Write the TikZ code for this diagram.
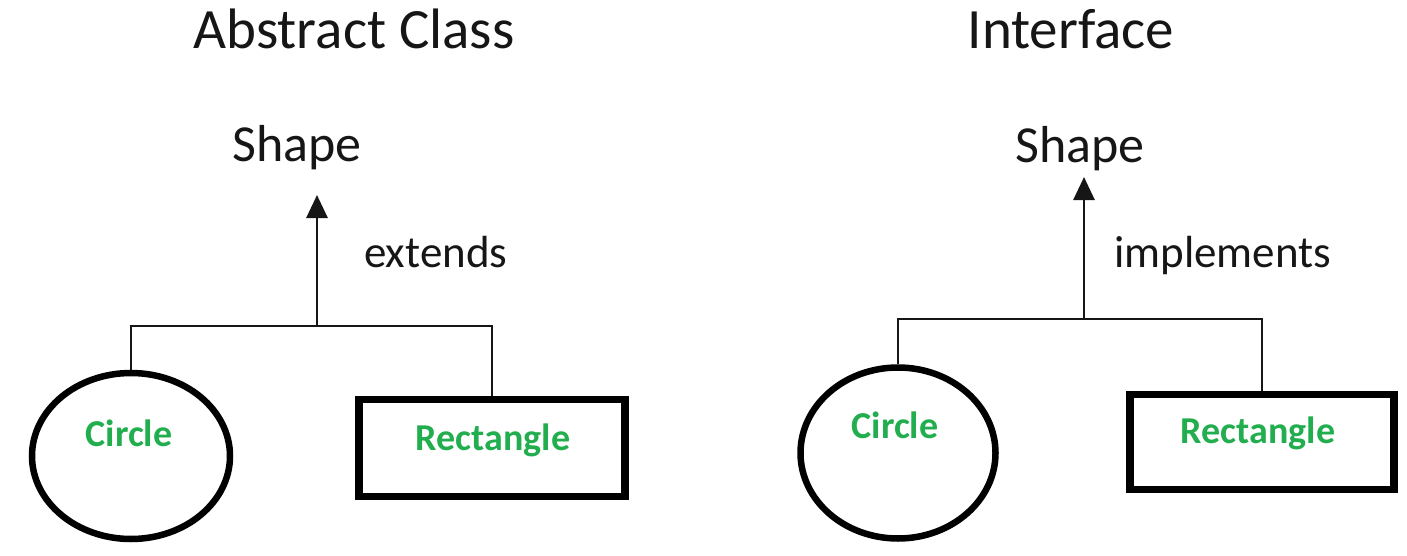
\documentclass[tikz,border=0pt]{standalone}
\usepackage{fontspec}
\setmainfont{Carlito}
\usepackage{tikz}
\usetikzlibrary{arrows.meta,positioning,shapes.geometric}
\definecolor{cInk}{HTML}{161616}
\definecolor{cKid}{HTML}{22AE4E}
\tikzset{
  hdr/.style={font=\fontsize{57}{62}\selectfont, text=cInk, anchor=base, inner sep=0pt},
  parent/.style={font=\fontsize{52}{56}\selectfont, text=cInk, anchor=base, inner sep=0pt},
  lbl/.style={font=\fontsize{45}{50}\selectfont, text=cInk, anchor=base west, inner sep=0pt},
  kidtxt/.style={font=\fontsize{38}{42}\selectfont\bfseries, text=cKid, anchor=base, inner sep=0pt},
  oval/.style={ellipse, draw=black, line width=6.5pt, inner sep=0pt,
               minimum width=198pt, minimum height=166pt},
  boxed/.style={rectangle, draw=black, line width=7.5pt, inner sep=0pt,
                minimum width=266pt, minimum height=97pt},
  bar/.style={draw=cInk, line width=2.4pt},
  flow/.style={-{Triangle[length=23pt, width=21pt]}, line width=2.8pt, draw=cInk},
}
\begin{document}
\begin{tikzpicture}[x=1pt, y=-1pt]
  \useasboundingbox (0,0) rectangle (1407,556);

  % abstract class
  \node[hdr] (hdrL) at (354,49) {Abstract Class};
  \node[parent] (shapeL) at (297,162) {Shape};
  \node[lbl] (extL) at (364,267) {extends};
  \node[oval] (circL) at (131,456) {};
  \node[kidtxt] (circLtxt) at (129,446) {Circle};
  \node[boxed] (rectL) at (492,448) {};
  \node[kidtxt] (rectLtxt) at (493,450) {Rectangle};
  \coordinate (jL) at (317,326);
  \coordinate (tipL) at (317,195);

  \draw[bar] (circL.north) -- (circL.north |- jL) -- (rectL.north |- jL) -- (rectL.north);
  \draw[flow] (jL) -- (tipL);

  % interface
  \node[hdr] (hdrR) at (1071,49) {Interface};
  \node[parent] (shapeR) at (1080,163) {Shape};
  \node[lbl] (implR) at (1114,267) {implements};
  \node[oval, minimum width=195pt, minimum height=171pt] (circR) at (898,453) {};
  \node[kidtxt] (circRtxt) at (895,438) {Circle};
  \node[boxed, minimum width=264pt, minimum height=95pt] (rectR) at (1262,442) {};
  \node[kidtxt] (rectRtxt) at (1258,443) {Rectangle};
  \coordinate (jR) at (1084,319);
  \coordinate (tipR) at (1084,177);

  \draw[bar] (circR.north) -- (circR.north |- jR) -- (rectR.north |- jR) -- (rectR.north);
  \draw[flow] (jR) -- (tipR);
\end{tikzpicture}
\end{document}
